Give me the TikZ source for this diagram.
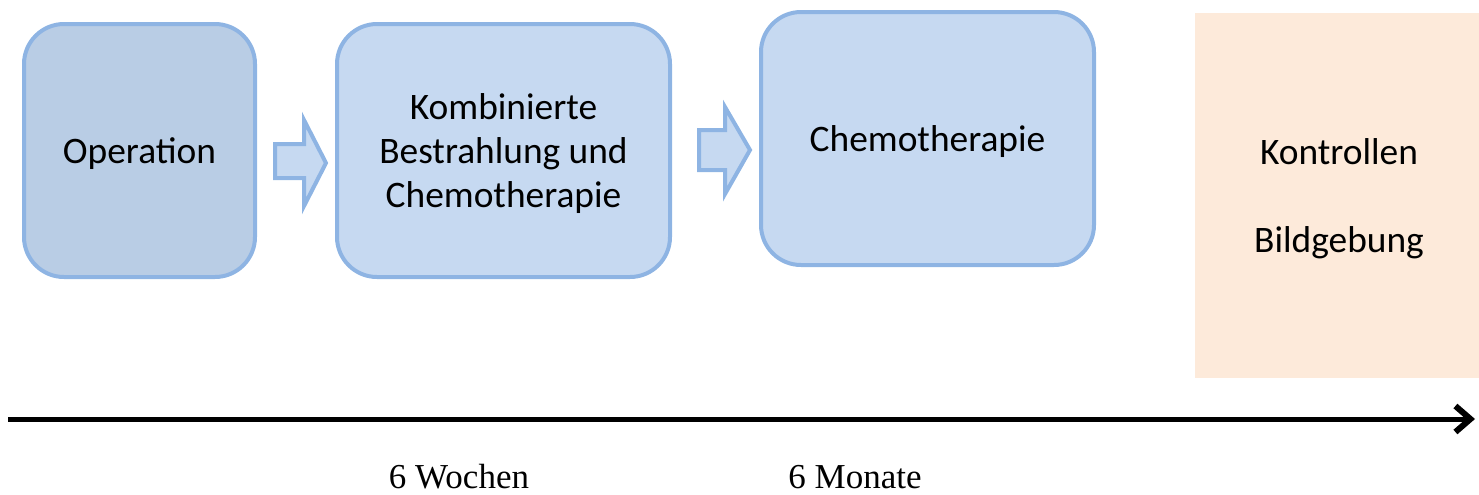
\documentclass[tikz,border=0pt]{standalone}
\usepackage{fontspec}
\setmainfont{Carlito}
\newfontfamily\timesfont{Liberation Serif}
\usetikzlibrary{arrows.meta,calc}
\definecolor{boxdark}{HTML}{B9CDE5}
\definecolor{boxlight}{HTML}{C6D9F1}
\definecolor{boxline}{HTML}{8EB4E3}
\definecolor{peach}{HTML}{FDEADA}
\tikzset{
  boxtext/.style={align=center, font=\fontsize{18.7}{22}\selectfont, text=black, inner sep=0pt, yshift=-1.6pt},
  stepbox/.style={draw=boxline, line width=2pt, rounded corners=20pt, inner sep=0pt},
  blockarrow/.style={draw=boxline, fill=boxlight, line width=2pt, line join=miter},
  timelabel/.style={font=\timesfont\fontsize{17.5}{20}\selectfont, anchor=base},
}
\begin{document}
\begin{tikzpicture}[x=0.5pt,y=-0.5pt]
\useasboundingbox (0,0) rectangle (1479,494);
\node[stepbox, fill=boxdark, minimum width=115.5pt, minimum height=126.5pt,
  label={[boxtext]center:Operation}] (op) at (139.5,150.5) {};
\node[stepbox, fill=boxlight, minimum width=166.5pt, minimum height=126.5pt,
  label={[boxtext]center:Kombinierte\\Bestrahlung und\\Chemotherapie}] (rc) at (503.5,150.5) {};
\node[stepbox, fill=boxlight, minimum width=166.5pt, minimum height=126.5pt,
  label={[boxtext]center:Chemotherapie}] (ch) at (927.5,138.5) {};
\node[fill=peach, minimum width=144pt, minimum height=182.5pt, inner sep=0pt,
  label={[boxtext]center:Kontrollen\\[22pt]Bildgebung}] (ko) at (1339,195.5) {};
% block arrows
\draw[blockarrow] (275,144) -- (304,144) -- (304,120) -- (326,163) -- (304,206) -- (304,178) -- (275,178) -- cycle;
\draw[blockarrow] (699,130) -- (725,130) -- (725,107) -- (750,150) -- (725,194) -- (725,170) -- (699,170) -- cycle;
% timeline
\coordinate (t0) at (8,419);
\coordinate (t1) at (1475,419);
\draw[line width=2.5pt, -{Straight Barb[length=7.5pt,width=13pt,line width=3pt]}] (t0) -- (t1);
\node[timelabel] (w6) at (459,488) {6 Wochen};
\node[timelabel] (m6) at (855,488) {6 Monate};
\end{tikzpicture}
\end{document}
